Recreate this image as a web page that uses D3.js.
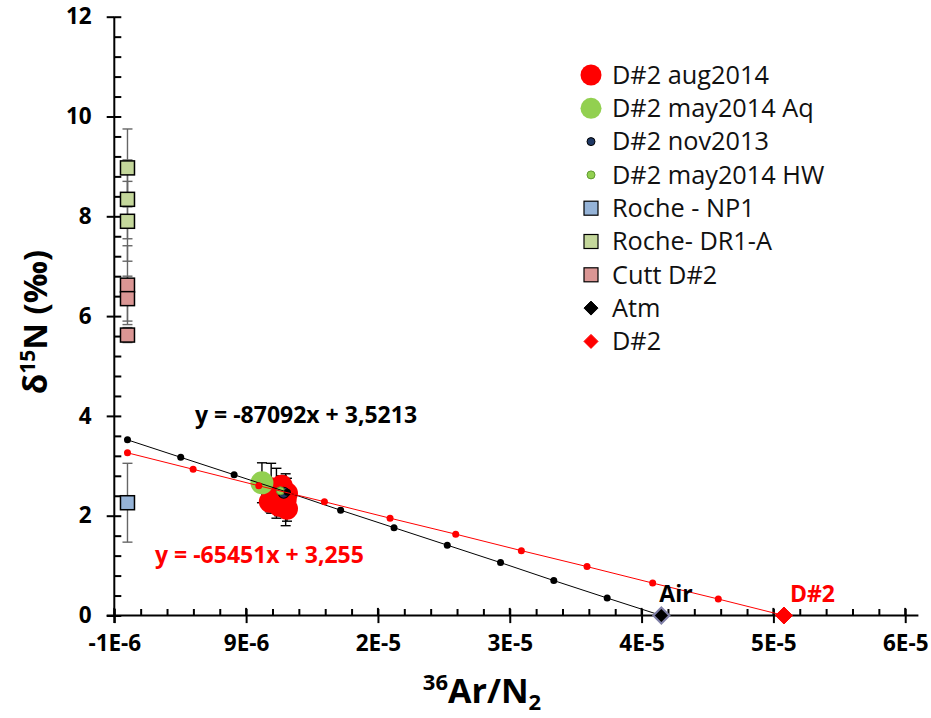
<!DOCTYPE html>
<html><head><meta charset="utf-8">
<script src="https://cdn.jsdelivr.net/npm/d3@7"></script>
<style>
body{margin:0;background:#fff;}
text{font-family:"Open Sans",sans-serif;}
</style></head>
<body><svg id="c" width="931" height="718"></svg>
<script>
// ---- data ----
const xTickValues = [-1e-6, 9e-6, 1.9e-5, 2.9e-5, 3.9e-5, 4.9e-5, 5.9e-5];
const xTickLabels = ["-1E-6","9E-6","2E-5","3E-5","4E-5","5E-5","6E-5"];
const yTickValues = [0,2,4,6,8,10,12];
const yTickLabels = ["0","2","4","6","8","10","12"];

// [x, y, error]
const aug2014 = [[1.09e-5,2.55,0.50],[1.13e-5,2.45,0.50],[1.20e-5,2.32,0.52],[1.17e-5,2.60,0.20],[1.21e-5,2.14,0.25],[1.08e-5,2.28,0.20],[1.21e-5,2.45,0.30],[1.15e-5,2.20,0.20]];
const may2014Aq = [[1.02e-5,2.66,0.40]];
const nov2013 = [[1.185e-5,2.46,0.0]];
const may2014HW = [[1.16e-5,2.50,0.0]];
const rocheNP1 = [[0,2.26,0.79]];
const rocheDR1A = [[0,8.97,0.78],[0,8.34,0.79],[0,7.90,0.80]];
const cuttD2 = [[0,6.62,0.79],[0,6.35,0.45],[0,5.62,0.15]];
const atmLine = [[0,3.52],[0.404e-5,3.17],[0.809e-5,2.82],[1.213e-5,2.47],[1.617e-5,2.11],[2.022e-5,1.76],[2.426e-5,1.41],[2.830e-5,1.06],[3.234e-5,0.70],[3.639e-5,0.35],[4.05e-5,0]];
const d2Line = [[0,3.26],[0.498e-5,2.93],[0.996e-5,2.60],[1.494e-5,2.28],[1.992e-5,1.95],[2.490e-5,1.63],[2.988e-5,1.30],[3.486e-5,0.98],[3.984e-5,0.65],[4.482e-5,0.33],[4.98e-5,0]];
const atmPoint = [[4.05e-5,0]];
const d2Point = [[4.98e-5,0]];
const legendItems = [
 {name:"D#2 aug2014", shape:"circle", r:10.5, fill:"#ff0000", stroke:"none"},
 {name:"D#2 may2014 Aq", shape:"circle", r:10.5, fill:"#92d050", stroke:"none"},
 {name:"D#2 nov2013", shape:"circle", r:4, fill:"#1f3864", stroke:"#000"},
 {name:"D#2 may2014 HW", shape:"circle", r:4, fill:"#92d050", stroke:"#5f9a30"},
 {name:"Roche - NP1", shape:"square", r:7, fill:"#95b3d7", stroke:"#000"},
 {name:"Roche- DR1-A", shape:"square", r:7, fill:"#c4d79b", stroke:"#000"},
 {name:"Cutt D#2", shape:"square", r:7, fill:"#da9694", stroke:"#000"},
 {name:"Atm", shape:"diamond", r:7, fill:"#000", stroke:"#000"},
 {name:"D#2", shape:"diamond", r:7, fill:"#ff0000", stroke:"#ff0000"}
];

// ---- chart ----
const svg = d3.select("#c");
const x = d3.scaleLinear().domain([-1e-6, 6e-5]).range([114.3, 918.4]);
const y = d3.scaleLinear().domain([0, 12]).range([615.5, 16.7]);

const xMinor = d3.range(0,31).map(i=>-1e-6+i*2e-6);
const yMinor = d3.range(0,31).map(i=>i*0.4);

// y axis
const ya = svg.append("g");
ya.append("g").attr("transform","translate(114.3,0)")
 .call(d3.axisRight(y).tickValues(yMinor).tickSize(7).tickFormat(""))
 .call(g=>g.select(".domain").remove());
ya.append("g").attr("transform","translate(114.3,0)")
 .call(d3.axisLeft(y).tickValues(yTickValues).tickSize(7.6).tickPadding(15).tickFormat((d,i)=>yTickLabels[i]))
 .call(g=>g.select(".domain").remove())
 .call(g=>g.selectAll("text").attr("font-size",22.5).attr("font-weight","bold").attr("fill","#000"));
ya.append("line").attr("x1",114.3).attr("x2",114.3).attr("y1",y(12)).attr("y2",y(0)+7.6).attr("stroke","#000").attr("stroke-width",2);
ya.selectAll(".tick line").attr("stroke","#000").attr("stroke-width",2);

// x axis
const xa = svg.append("g");
xa.append("g").attr("transform",`translate(0,${y(0)})`)
 .call(d3.axisTop(x).tickValues(xMinor).tickSize(6.5).tickFormat(""))
 .call(g=>g.select(".domain").remove());
xa.append("g").attr("transform",`translate(0,${y(0)})`)
 .call(d3.axisBottom(x).tickValues(xTickValues).tickSize(7.6).tickPadding(12).tickFormat((d,i)=>xTickLabels[i]))
 .call(g=>g.select(".domain").remove())
 .call(g=>g.selectAll("text").attr("font-size",22.5).attr("font-weight","bold").attr("fill","#000"));
xTickValues.forEach(v=>{
 xa.append("line").attr("x1",x(v)).attr("x2",x(v)).attr("y1",y(0)-7.6).attr("y2",y(0)).attr("stroke","#000").attr("stroke-width",2);
});
xa.append("line").attr("x1",x(-1e-6)-7.6).attr("x2",x(6e-5)).attr("y1",y(0)).attr("y2",y(0)).attr("stroke","#000").attr("stroke-width",2);
xa.selectAll(".tick line").attr("stroke","#000").attr("stroke-width",2);

// error bars
function errBars(data,color){
 const g = svg.append("g").attr("stroke",color).attr("stroke-width",1.4).attr("fill","none");
 data.filter(d=>d[2]>0).forEach(d=>{
  const cx=x(d[0]);
  g.append("line").attr("x1",cx).attr("x2",cx).attr("y1",y(d[1]+d[2])).attr("y2",y(d[1]-d[2]));
  [d[1]+d[2],d[1]-d[2]].forEach(v=>g.append("line").attr("x1",cx-5).attr("x2",cx+5).attr("y1",y(v)).attr("y2",y(v)));
 });
}
errBars(rocheDR1A,"#666");
errBars(cuttD2,"#666");
errBars(rocheNP1,"#666");
errBars(aug2014,"#000");
errBars(may2014Aq,"#000");

function squares(data,fill){
 svg.append("g").selectAll("rect").data(data).join("rect")
  .attr("x",d=>x(d[0])-7).attr("y",d=>y(d[1])-7).attr("width",14).attr("height",14)
  .attr("fill",fill).attr("stroke","#000").attr("stroke-width",1.5);
}
squares(rocheDR1A,"#c4d79b");
squares(cuttD2,"#da9694");
squares(rocheNP1,"#95b3d7");

function circles(data,r,fill,stroke,sw){
 svg.append("g").selectAll("circle").data(data).join("circle")
  .attr("cx",d=>x(d[0])).attr("cy",d=>y(d[1])).attr("r",r)
  .attr("fill",fill).attr("stroke",stroke).attr("stroke-width",sw||1);
}
circles(aug2014,11,"#ff0000","none");
circles(may2014Aq,11.5,"#92d050","none");
circles(nov2013,5.5,"#1f3864","#000",1.2);
circles(may2014HW,4,"#92d050","#5f9a30",1);

// trend lines
const line = d3.line().x(d=>x(d[0])).y(d=>y(d[1]));
svg.append("path").datum(atmLine).attr("d",line).attr("fill","none").attr("stroke","#000").attr("stroke-width",1);
circles(atmLine.slice(0,-1),3.5,"#000","none");
svg.append("path").datum(d2Line).attr("d",line).attr("fill","none").attr("stroke","#ff0000").attr("stroke-width",1);
circles(d2Line.slice(0,-1),3.5,"#ff0000","none");

function diamonds(data,r,fill,stroke,sw){
 svg.append("g").selectAll("path").data(data).join("path")
  .attr("d",d=>{const cx=x(d[0]),cy=y(d[1]);return `M${cx},${cy-r}L${cx+r},${cy}L${cx},${cy+r}L${cx-r},${cy}Z`;})
  .attr("fill",fill).attr("stroke",stroke).attr("stroke-width",sw);
}
diamonds(atmPoint,8,"#000","#8080a8",2);
diamonds(d2Point,8.5,"#ff0000","#ff0000",1);

// annotations
svg.append("text").attr("x",x(atmPoint[0][0])-2).attr("y",602).attr("font-size",23).attr("font-weight","bold").attr("fill","#000").text("Air");
svg.append("text").attr("x",x(d2Point[0][0])+6).attr("y",602).attr("font-size",23).attr("font-weight","bold").attr("fill","#ff0000").text("D#2");
svg.append("text").attr("x",195).attr("y",423).attr("font-size",23).attr("font-weight","bold").attr("fill","#000").text("y = -87092x + 3,5213");
svg.append("text").attr("x",155).attr("y",563).attr("font-size",23).attr("font-weight","bold").attr("fill","#ff0000").text("y = -65451x + 3,255");

// axis titles
const xt = svg.append("text").attr("x",482).attr("y",703).attr("text-anchor","middle").attr("font-size",34).attr("font-weight","bold");
xt.append("tspan").attr("font-size",22).attr("dy",-13).text("36");
xt.append("tspan").attr("dy",13).text("Ar/N");
xt.append("tspan").attr("font-size",22).attr("dy",7).text("2");
const yt = svg.append("text").attr("transform","translate(47,322) rotate(-90)").attr("text-anchor","middle").attr("font-size",33).attr("font-weight","bold");
yt.append("tspan").text("δ");
yt.append("tspan").attr("font-size",21).attr("dy",-12).text("15");
yt.append("tspan").attr("dy",12).text("N (‰)");

// legend
const lg = svg.append("g");
legendItems.forEach((it,i)=>{
 const cy = 75 + i*33.3, cx = 591;
 if(it.shape==="circle") lg.append("circle").attr("cx",cx).attr("cy",cy).attr("r",it.r).attr("fill",it.fill).attr("stroke",it.stroke);
 else if(it.shape==="square") lg.append("rect").attr("x",cx-it.r).attr("y",cy-it.r).attr("width",2*it.r).attr("height",2*it.r).attr("fill",it.fill).attr("stroke",it.stroke).attr("stroke-width",1.2);
 else lg.append("path").attr("d",`M${cx},${cy-it.r}L${cx+it.r},${cy}L${cx},${cy+it.r}L${cx-it.r},${cy}Z`).attr("fill",it.fill).attr("stroke",it.stroke);
 lg.append("text").attr("x",612).attr("y",cy).attr("dy","0.35em").attr("font-size",25.3).attr("fill","#111").text(it.name);
});
</script></body></html>
